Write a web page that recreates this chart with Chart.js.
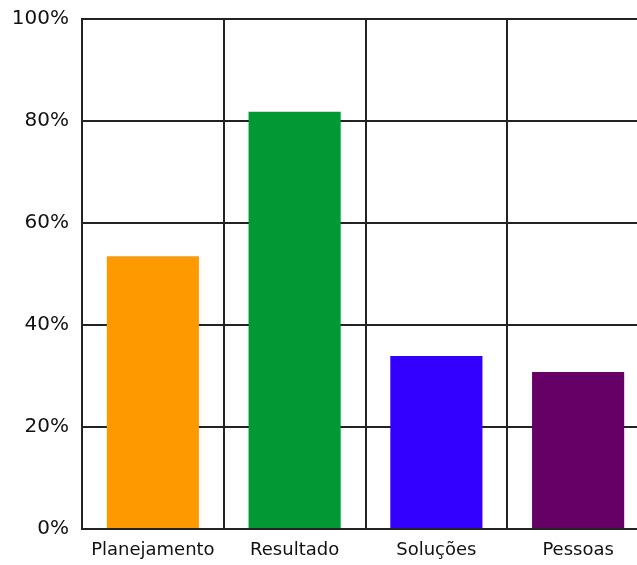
<!DOCTYPE html>
<html>
<head>
<meta charset="utf-8">
<script src="https://cdn.jsdelivr.net/npm/chart.js@4"></script>
<style>
  html, body { margin: 0; padding: 0; background: #fff; overflow: hidden; }
  #wrap { width: 637px; height: 565px; overflow: hidden; }
  canvas { display: block; }
</style>
</head>
<body>
<div id="wrap"><canvas id="c" width="650" height="565"></canvas></div>
<script>
const categories = ['Planejamento', 'Resultado', 'Soluções', 'Pessoas'];
const values = [53.5, 81.8, 33.9, 30.8];
const barColors = ['#FF9900', '#009933', '#3300FF', '#660066'];
const yTicks = [0, 20, 40, 60, 80, 100];

const family = "'DejaVu Sans', Verdana, sans-serif";

new Chart(document.getElementById('c'), {
  type: 'bar',
  data: {
    labels: categories,
    datasets: [{
      data: values,
      backgroundColor: barColors,
      borderWidth: 0,
      barPercentage: 0.65,
      categoryPercentage: 1.0
    }]
  },
  options: {
    responsive: false,
    animation: false,
    devicePixelRatio: 1,
    layout: { padding: { top: 19, right: 1, left: 0, bottom: 0 } },
    plugins: { legend: { display: false }, tooltip: { enabled: false } },
    scales: {
      x: {
        grid: { display: true, offset: true, color: '#222', lineWidth: 2, drawTicks: false },
        border: { display: true, color: '#222', width: 2 },
        ticks: { color: '#111', font: { family, size: 18 }, padding: 11 },
        afterFit: (s) => { s.height = 36; s.paddingLeft = 0; s.paddingRight = 0; }
      },
      y: {
        min: 0, max: 100,
        afterBuildTicks: (s) => { s.ticks = yTicks.map(v => ({ value: v })); },
        grid: { color: '#222', lineWidth: 2, drawTicks: false },
        border: { display: true, color: '#222', width: 2 },
        ticks: { color: '#111', font: { family, size: 20 }, padding: 13, callback: (v) => v + '%' },
        afterFit: (s) => { s.width = 82; s.paddingTop = 0; s.paddingBottom = 0; }
      }
    }
  }
});
</script>
</body>
</html>
